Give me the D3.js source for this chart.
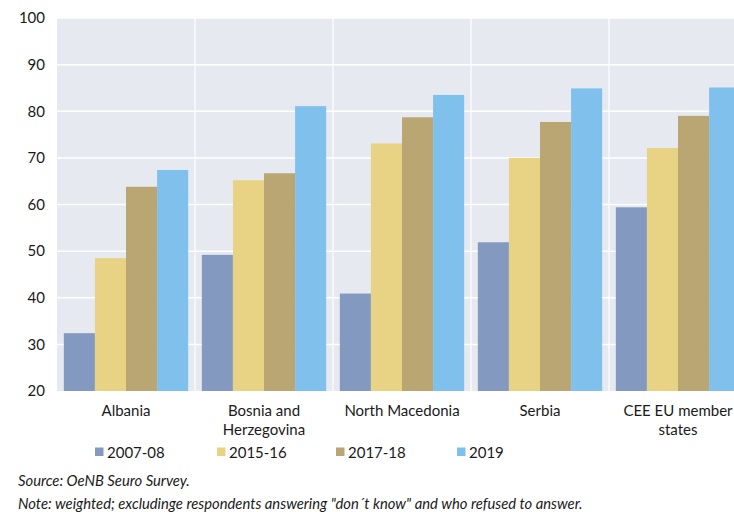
<!DOCTYPE html>
<html>
<head>
<meta charset="utf-8">
<script src="https://cdn.jsdelivr.net/npm/d3@7"></script>
<style>
  html, body { margin: 0; padding: 0; background: #fff; }
  svg { display: block; font-family: Lato, "Open Sans", sans-serif; }
</style>
</head>
<body>
<svg id="chart" width="734" height="512"></svg>
<script>
// Share of respondents, by country and survey wave
const categories = ["Albania", "Bosnia and Herzegovina", "North Macedonia", "Serbia", "CEE EU member states"];
const categoryLines = [["Albania"], ["Bosnia and", "Herzegovina"], ["North Macedonia"], ["Serbia"], ["CEE EU member", "states"]];
const seriesNames = ["2007-08", "2015-16", "2017-18", "2019"];
const values2007 = [32.4, 49.2, 40.9, 51.9, 59.4];
const values2015 = [48.5, 65.2, 73.1, 70.0, 72.1];
const values2017 = [63.8, 66.7, 78.7, 77.7, 79.0];
const values2019 = [67.4, 81.1, 83.5, 84.9, 85.1];
const yTicks = [20, 30, 40, 50, 60, 70, 80, 90, 100];
const colors = ["#8499bf", "#e8d283", "#b9a673", "#80c0ec"];
const sourceText = "Source: OeNB Seuro Survey.";
const noteText = "Note: weighted; excludinge respondents answering \"don\u00b4t know\" and who refused to answer.";

const seriesValues = [values2007, values2015, values2017, values2019];

const svg = d3.select("#chart");
const plot = { left: 57, right: 747, top: 18, bottom: 391 };

const x = d3.scaleBand().domain(categories).range([plot.left, plot.right]).paddingInner(0).paddingOuter(0);
const xInner = d3.scaleBand().domain(seriesNames).range([0, x.bandwidth()]).paddingOuter(0.22).paddingInner(0);
const y = d3.scaleLinear().domain([20, 100]).range([plot.bottom, plot.top]);

// plot background
svg.append("rect")
  .attr("x", plot.left).attr("y", plot.top)
  .attr("width", plot.right - plot.left).attr("height", plot.bottom - plot.top)
  .attr("fill", "#e6e9f0");

// horizontal grid
svg.append("g")
  .selectAll("line")
  .data(yTicks.filter(t => t > 20))
  .join("line")
  .attr("x1", plot.left).attr("x2", plot.right)
  .attr("y1", d => y(d)).attr("y2", d => y(d))
  .attr("stroke", "#ffffff").attr("stroke-width", 1.5);

// vertical separators between categories
svg.append("g")
  .selectAll("line")
  .data(categories.slice(1))
  .join("line")
  .attr("x1", d => x(d)).attr("x2", d => x(d))
  .attr("y1", plot.top).attr("y2", plot.bottom)
  .attr("stroke", "#ffffff").attr("stroke-width", 1.2);

// bars
const groups = svg.append("g")
  .selectAll("g")
  .data(categories)
  .join("g")
  .attr("transform", d => `translate(${x(d)},0)`);

groups.selectAll("rect")
  .data((c, ci) => seriesNames.map((s, si) => ({ series: s, si, value: seriesValues[si][ci] })))
  .join("rect")
  .attr("x", d => xInner(d.series))
  .attr("width", xInner.bandwidth())
  .attr("y", d => y(d.value))
  .attr("height", d => y(20) - y(d.value))
  .attr("fill", d => colors[d.si]);

// y axis
const yAxis = d3.axisLeft(y).tickValues(yTicks).tickSize(0).tickPadding(12);
const yg = svg.append("g").attr("transform", `translate(${plot.left},0)`).call(yAxis);
yg.select(".domain").remove();
yg.selectAll("text").attr("font-size", 15).attr("fill", "#1a1a1a").attr("font-family", "Lato, sans-serif");

// category labels
const xg = svg.append("g");
categories.forEach((c, i) => {
  const t = xg.append("text")
    .attr("x", x(c) + x.bandwidth() / 2)
    .attr("y", 416)
    .attr("text-anchor", "middle")
    .attr("font-size", 15)
    .attr("fill", "#1a1a1a");
  categoryLines[i].forEach((line, li) => {
    t.append("tspan").attr("x", x(c) + x.bandwidth() / 2).attr("dy", li === 0 ? 0 : 18.5).text(line);
  });
});

// legend
const legendX = [95, 217, 336, 457];
const legend = svg.append("g")
  .selectAll("g")
  .data(seriesNames)
  .join("g")
  .attr("transform", (d, i) => `translate(${legendX[i]},447)`);
legend.append("rect").attr("width", 8.5).attr("height", 8.5).attr("y", 0.5)
  .attr("fill", (d, i) => colors[i]);
legend.append("text").attr("x", 12).attr("y", 10.5)
  .attr("font-size", 15).attr("fill", "#1a1a1a").text(d => d);

// source and note
svg.append("text").attr("x", 18).attr("y", 486)
  .attr("font-size", 14.8).attr("font-style", "italic").attr("fill", "#1a1a1a").text(sourceText);
svg.append("text").attr("x", 18).attr("y", 509)
  .attr("font-size", 14.8).attr("font-style", "italic").attr("fill", "#1a1a1a").text(noteText);
</script>
</body>
</html>
